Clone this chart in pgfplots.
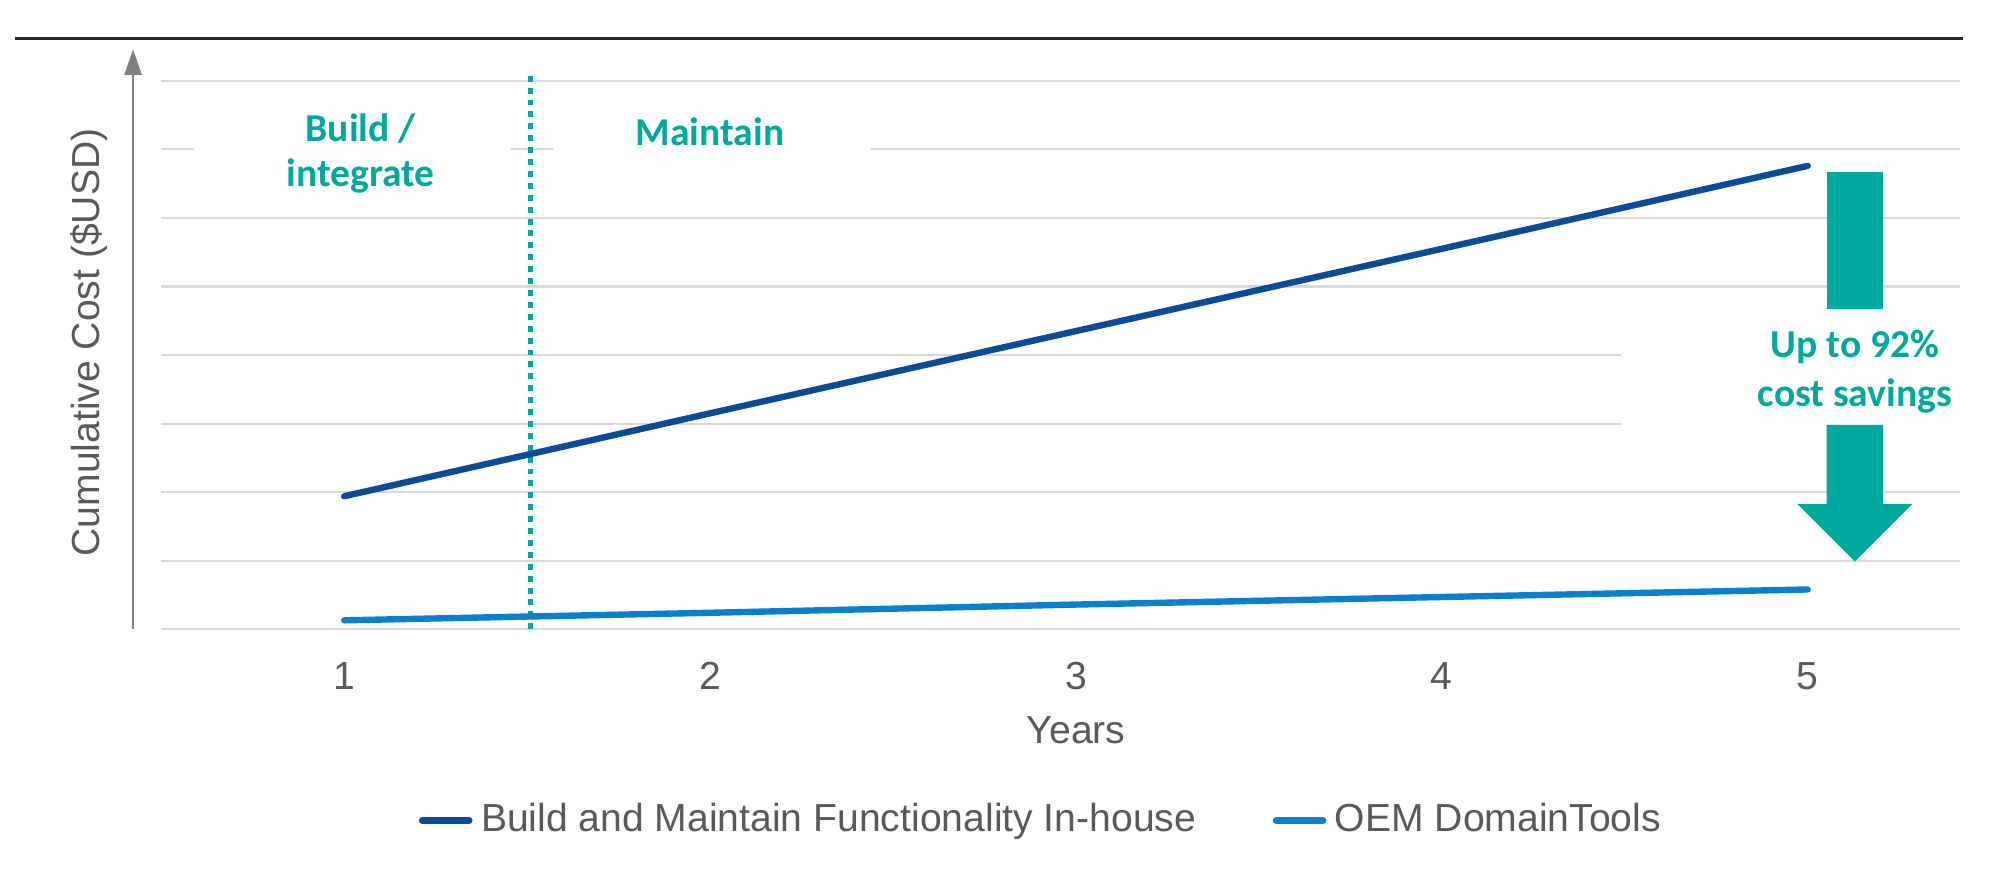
\documentclass[border=0pt]{standalone}
\usepackage{fontspec}
\setmainfont{Liberation Sans}
\newfontfamily\calfont{Carlito}
\usepackage{pgfplots}
\pgfplotsset{compat=1.18}
\usetikzlibrary{arrows.meta}

\definecolor{teal}{HTML}{00A99D}
\definecolor{darkline}{HTML}{0B4C97}
\definecolor{lightline}{HTML}{0A7ECF}
\definecolor{txtgray}{HTML}{595959}
\definecolor{gridc}{HTML}{D9D9D9}
\definecolor{axisgray}{HTML}{808080}

\newcommand{\lab}{\fontsize{9.2}{11}\selectfont\color{txtgray}}
\newcommand{\tl}{\calfont\bfseries\fontsize{9.3}{10.5}\selectfont\color{teal}}

\begin{document}
\begin{tikzpicture}
\begin{axis}[
    scale only axis,
    width=423pt, height=129pt,
    xmin=0.5, xmax=5.415,
    ymin=0, ymax=8,
    clip=false,
    axis line style={draw=none},
    major tick length=0pt,
    xtick={1,2,3,4,5},
    ytick=\empty,
    /pgf/number format/assume math mode=true,
    xticklabel style={font=\lab, anchor=center, yshift=-11pt},
    xlabel={Years},
    xlabel style={font=\lab, at={(axis description cs:0.5087,-0.184)}, anchor=center},
    ylabel={Cumulative Cost (\$USD)},
    ylabel style={font=\lab, at={(axis description cs:-0.0404,0.523)}, anchor=center},
    legend style={at={(axis description cs:0.491,-0.349)}, anchor=center,
        legend columns=2, draw=none, fill=none, font=\lab,
        /tikz/every even column/.append style={column sep=16pt}},
    legend image code/.code={\draw[#1, line width=1.6pt] (0pt,0pt) -- (11pt,0pt);},
]
% gridlines
\draw[gridc, line width=0.5pt] (axis cs:0.5,0) -- (axis cs:5.415,0);
\draw[gridc, line width=0.5pt] (axis cs:0.5,1) -- (axis cs:5.415,1);
\draw[gridc, line width=0.5pt] (axis cs:0.5,2) -- (axis cs:5.415,2);
\draw[gridc, line width=0.5pt] (axis cs:0.5,3) -- (axis cs:4.49,3);
\draw[gridc, line width=0.5pt] (axis cs:0.5,4) -- (axis cs:4.49,4);
\draw[gridc, line width=0.5pt] (axis cs:0.5,5) -- (axis cs:5.415,5);
\draw[gridc, line width=0.5pt] (axis cs:0.5,6) -- (axis cs:5.415,6);
\draw[gridc, line width=0.5pt] (axis cs:0.5,7) -- (axis cs:0.59,7);
\draw[gridc, line width=0.5pt] (axis cs:1.457,7) -- (axis cs:1.571,7);
\draw[gridc, line width=0.5pt] (axis cs:2.439,7) -- (axis cs:5.415,7);
\draw[gridc, line width=0.5pt] (axis cs:0.5,8) -- (axis cs:5.415,8);
% y axis with arrow
\draw[axisgray, line width=0.6pt, -{Triangle[width=4pt,length=6pt]}] (axis cs:0.423,0) -- (axis cs:0.423,8.46);
% top rule
\draw[black!85, line width=0.7pt] (axis cs:0.101,8.62) -- (axis cs:5.425,8.62);
% phase divider
\draw[teal, line width=1.1pt, dash pattern=on 1.4pt off 1.4pt] (axis cs:1.51,0) -- (axis cs:1.51,8.1);
\node[font=\tl, align=center] at (axis cs:1.045,6.94) {Build /\\integrate};
\node[font=\tl] at (axis cs:2.0,7.26) {Maintain};

\addplot[darkline, line width=1.5pt, line cap=round] coordinates {
    (1,1.94) (2,3.15) (3,4.35) (4,5.55) (5,6.76)
};
\addplot[lightline, line width=1.5pt, line cap=round] coordinates {
    (1,0.13) (2,0.24) (3,0.36) (4,0.47) (5,0.58)
};
\legend{Build and Maintain Functionality In-house, OEM DomainTools}

% savings arrow
\fill[teal] (axis cs:5.052,6.667) rectangle (axis cs:5.206,4.674);
\fill[teal] (axis cs:5.052,2.98) -- (axis cs:5.206,2.98) -- (axis cs:5.206,1.825)
    -- (axis cs:5.286,1.825) -- (axis cs:5.129,0.987) -- (axis cs:4.972,1.825)
    -- (axis cs:5.052,1.825) -- cycle;
\node[font=\tl] at (axis cs:5.129,4.115) {Up to 92\%};
\node[font=\tl] at (axis cs:5.129,3.408) {cost savings};

\coordinate (bbl) at (axis cs:0.0592,-3.687);
\coordinate (btr) at (axis cs:5.523,9.18);
\end{axis}
\pgfresetboundingbox
\path (bbl) rectangle (btr);
\end{tikzpicture}
\end{document}
